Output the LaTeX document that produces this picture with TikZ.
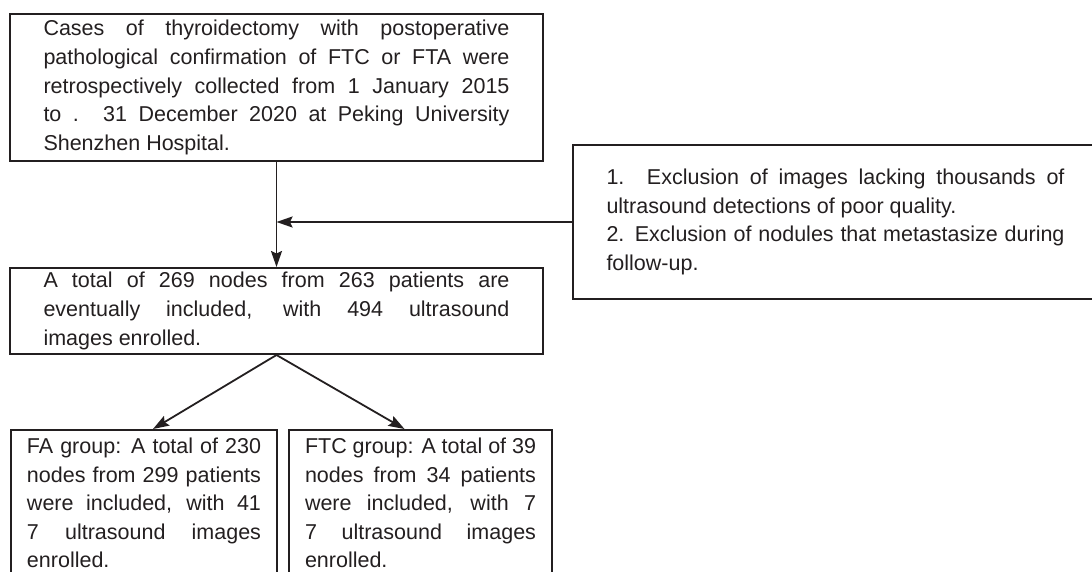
\documentclass[tikz,border=0pt]{standalone}
\usepackage{fontspec}
\setmainfont{Liberation Sans}
\usepackage{xcolor}
\definecolor{ink}{HTML}{231F20}
\usetikzlibrary{arrows.meta,positioning}

\begin{document}
\begin{tikzpicture}[x=1pt,y=-1pt,
  node distance=105pt,
  box/.style={rectangle,draw=ink,line width=2pt,text=ink,align=justify,
              inner xsep=33.5pt,inner ysep=0pt,
              font=\fontsize{21.5}{28.6}\selectfont},
  grp/.style={box,inner xsep=16pt,text width=234pt,minimum height=146pt},
  arr/.style={-{Stealth[length=16pt,width=11pt,inset=2.5pt]},color=ink,line width=1.8pt}]
  \useasboundingbox (0,0) rectangle (1092,572);
  \node[box,text width=466pt,minimum height=147pt] (cases) at (276.5,87.5)
    {Cases of thyroidectomy with postoperative\linebreak
     pathological confirmation of FTC or FTA were\linebreak
     retrospectively collected from 1 January 2015\linebreak
     to . 31 December 2020 at Peking University\linebreak
     Shenzhen Hospital.};
  \node[box,text width=466pt,minimum height=86pt,below=of cases] (total)
    {A total of 269 nodes from 263 patients are\linebreak
     eventually included, with 494 ultrasound\linebreak
     images enrolled.};
  \node[box,text width=458pt,minimum height=154pt,anchor=north west] (excl) at (572,144)
    {1. Exclusion of images lacking thousands of\linebreak
     ultrasound detections of poor quality.\par
     2. Exclusion of nodules that metastasize during\linebreak
     follow-up.};
  \node[grp,anchor=north west] (fa) at (10,429)
    {FA group: A total of 230\linebreak
     nodes from 299 patients\linebreak
     were included, with 41\linebreak
     7 ultrasound images\linebreak
     enrolled.};
  \node[grp,right=10pt of fa,text width=231pt] (ftc)
    {FTC group: A total of 39\linebreak
     nodes from 34 patients\linebreak
     were included, with 7\linebreak
     7 ultrasound images\linebreak
     enrolled.};
  \draw[arr](cases)--(total);
  \draw[arr](excl.west)--(excl.west-|cases.south);
  \draw[arr](total.south)--([xshift=9pt]fa.north);
  \draw[arr](total.south)--([xshift=-16pt]ftc.north);
\end{tikzpicture}
\end{document}
